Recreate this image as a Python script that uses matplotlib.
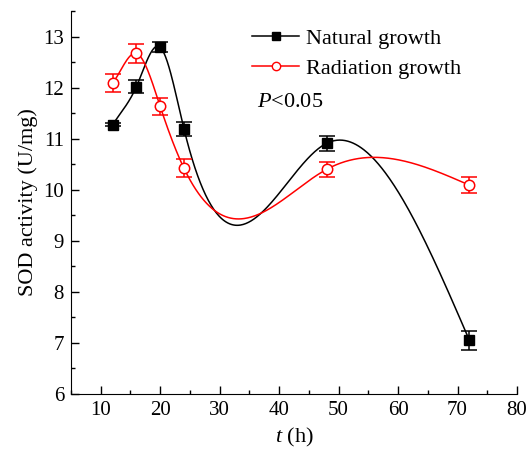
import numpy as np
import matplotlib
matplotlib.use('Agg')
import matplotlib.pyplot as plt
from matplotlib.ticker import MultipleLocator

# data
t = [12, 16, 20, 24, 48, 72]
natural = [11.27, 12.02, 12.79, 11.19, 10.91, 7.05]
natural_err = [0.03, 0.12, 0.10, 0.14, 0.15, 0.19]
radiation = [12.09, 12.67, 11.63, 10.42, 10.40, 10.09]
radiation_err = [0.18, 0.19, 0.17, 0.18, 0.15, 0.15]


def spline(x, y, xs):
    # cubic spline: left end clamped to first secant, right end natural
    x = np.asarray(x, float)
    y = np.asarray(y, float)
    n = len(x)
    h = np.diff(x)
    A = np.zeros((n, n))
    b = np.zeros(n)
    A[0, 0], A[0, 1] = 2 * h[0], h[0]
    A[-1, -1] = 1
    for i in range(1, n - 1):
        A[i, i - 1] = h[i - 1]
        A[i, i] = 2 * (h[i - 1] + h[i])
        A[i, i + 1] = h[i]
        b[i] = 3 * ((y[i + 1] - y[i]) / h[i] - (y[i] - y[i - 1]) / h[i - 1])
    c = np.linalg.solve(A, b)
    ys = np.zeros_like(xs)
    for k, xv in enumerate(xs):
        i = min(max(np.searchsorted(x, xv) - 1, 0), n - 2)
        dx = xv - x[i]
        bi = (y[i + 1] - y[i]) / h[i] - h[i] * (2 * c[i] + c[i + 1]) / 3
        di = (c[i + 1] - c[i]) / (3 * h[i])
        ys[k] = y[i] + bi * dx + c[i] * dx ** 2 + di * dx ** 3
    return ys


plt.rcParams['font.family'] = 'Liberation Serif'
plt.rcParams['mathtext.fontset'] = 'custom'
plt.rcParams['mathtext.it'] = 'Liberation Serif:italic'
plt.rcParams['mathtext.rm'] = 'Liberation Serif'

fig = plt.figure(figsize=(5.31, 4.54), dpi=100)
ax = fig.add_axes([71 / 531, 60 / 454, 446 / 531, 383 / 454])

xs = np.linspace(12, 72, 400)
ax.plot(xs, spline(t, natural, xs), color='black', lw=1.1)
ax.plot(xs, spline(t, radiation, xs), color='red', lw=1.1)

ax.errorbar(t, natural, yerr=natural_err, fmt='s', color='black', ms=7,
            capsize=6, capthick=1.1, elinewidth=1.1)
ax.errorbar(t, radiation, yerr=radiation_err, fmt='o', color='red', mfc='white',
            ms=7.5, mew=1.1, capsize=6, capthick=1.1, elinewidth=1.1)

# legend handles
ax.plot([], [], '-s', color='black', ms=5.5, lw=1.1, label='Natural growth')
ax.plot([], [], '-o', color='red', mfc='white', ms=6, lw=1.1, label='Radiation growth')
handles, labels = ax.get_legend_handles_labels()
ax.legend(handles[-2:], labels[-2:], loc='upper left', bbox_to_anchor=(0.372, 0.995),
          frameon=False, fontsize=16, handlelength=2.1, handletextpad=0.3,
          labelspacing=0.42, borderaxespad=0.3)
ax.text(0.418, 0.76, r'$P$<0.05', transform=ax.transAxes, fontsize=16, va='center')

ax.set_xlim(5, 80)
ax.set_ylim(6, 13.5)
ax.xaxis.set_major_locator(MultipleLocator(10))
ax.xaxis.set_minor_locator(MultipleLocator(5))
ax.yaxis.set_major_locator(MultipleLocator(1))
ax.yaxis.set_minor_locator(MultipleLocator(0.5))
ax.tick_params(which='both', direction='in', labelsize=15, width=1)
ax.tick_params(which='major', length=6, pad=5)
ax.tick_params(which='minor', length=3)
ax.spines['top'].set_visible(False)
ax.spines['right'].set_visible(False)

ax.set_xlabel(r'$t$ (h)', fontsize=16, labelpad=4)
ax.set_ylabel('SOD activity (U/mg)', fontsize=16, labelpad=4)

fig.savefig('out.png', dpi=100)
